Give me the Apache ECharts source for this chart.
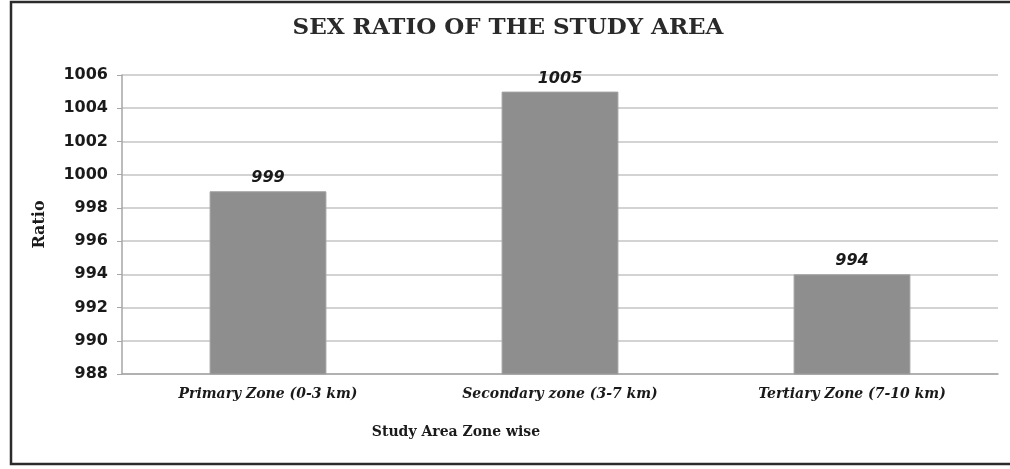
<!DOCTYPE html>
<html>
<head>
<meta charset="utf-8">
<script src="https://cdn.jsdelivr.net/npm/echarts@6/dist/echarts.min.js"></script>
<style>
  html, body { margin: 0; padding: 0; background: #fff; }
  #chart { width: 1010px; height: 469px; }
</style>
</head>
<body>
<div id="chart"></div>
<script>
// Sex ratio (females per 1000 males) by distance zone
const zones = ['Primary Zone (0-3 km)', 'Secondary zone (3-7 km)', 'Tertiary Zone (7-10 km)'];
const sexRatio = [999, 1005, 994];
const yTicks = { min: 988, max: 1006, step: 2 };

const chart = echarts.init(document.getElementById('chart'), null, { renderer: 'canvas' });

chart.setOption({
  backgroundColor: '#ffffff',
  animation: false,
  graphic: [
    {
      type: 'rect',
      shape: { x: 11, y: 2, width: 1010, height: 462 },
      style: { fill: 'none', stroke: '#2b2b2b', lineWidth: 2.5 },
      silent: true
    },
    {
      type: 'text',
      x: 508,
      y: 28,
      style: {
        text: 'SEX RATIO OF THE STUDY AREA',
        font: 'bold 23px "DejaVu Serif", serif',
        fill: '#2a2a2a',
        align: 'center',
        verticalAlign: 'middle'
      }
    },
    {
      type: 'text',
      x: 456,
      y: 432,
      style: {
        text: 'Study Area Zone wise',
        font: 'bold 14px "DejaVu Serif", serif',
        fill: '#1a1a1a',
        align: 'center',
        verticalAlign: 'middle'
      }
    }
  ],
  grid: { left: 122, right: 12, top: 75, bottom: 95, containLabel: false },
  xAxis: {
    type: 'category',
    data: zones,
    axisLine: { lineStyle: { color: '#a6a6a6', width: 1.5 } },
    axisTick: { show: false },
    axisLabel: {
      margin: 13,
      fontFamily: '"DejaVu Serif", serif',
      fontStyle: 'italic',
      fontWeight: 'bold',
      fontSize: 14,
      color: '#1a1a1a'
    }
  },
  yAxis: {
    type: 'value',
    min: yTicks.min,
    max: yTicks.max,
    interval: yTicks.step,
    name: 'Ratio',
    nameLocation: 'middle',
    nameGap: 74,
    nameRotate: 90,
    nameTextStyle: {
      fontFamily: '"DejaVu Serif", serif',
      fontWeight: 'bold',
      fontSize: 16,
      color: '#1a1a1a'
    },
    axisLine: { show: true, lineStyle: { color: '#a6a6a6', width: 1.5 } },
    axisTick: { show: true, length: 5, lineStyle: { color: '#a6a6a6' } },
    axisLabel: {
      margin: 14,
      formatter: v => String(v),
      fontFamily: '"DejaVu Sans", sans-serif',
      fontWeight: 'bold',
      fontSize: 16,
      color: '#1a1a1a'
    },
    splitLine: { lineStyle: { color: '#c4c4c4', width: 1.5 } }
  },
  series: [{
    type: 'bar',
    data: sexRatio,
    barWidth: '40%',
    itemStyle: { color: '#8e8e8e', borderColor: '#a0a0a0', borderWidth: 1 },
    label: {
      show: true,
      position: 'top',
      distance: 5,
      fontFamily: '"DejaVu Sans", sans-serif',
      fontStyle: 'italic',
      fontWeight: 'bold',
      fontSize: 16,
      color: '#1a1a1a'
    }
  }]
});
</script>
</body>
</html>
